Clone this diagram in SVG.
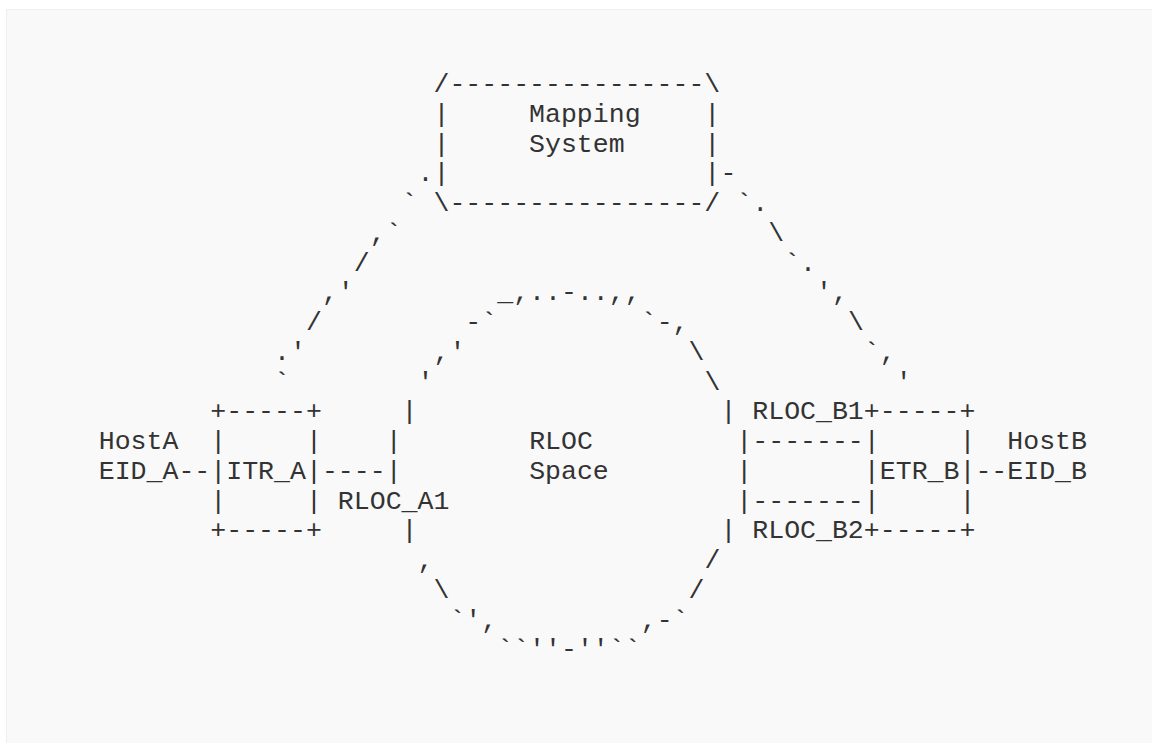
<svg xmlns="http://www.w3.org/2000/svg" width="1152" height="743" viewBox="0 0 1152 743" xml:space="preserve">
<style>
.t{font-family:"Liberation Mono","DejaVu Sans Mono",monospace;font-size:26.56px;fill:#333;white-space:pre}
</style>
<rect x="0" y="0" width="1152" height="743" fill="#ffffff"/>
<rect x="6.5" y="9.5" width="1200" height="800" fill="#f9f9f9" stroke="#eeeeee" stroke-width="1"/>
<g id="mapping-system">
<text class="t" x="433.49" y="92">/----------------\</text>
<text class="t" x="433.49" y="121.75">|     Mapping    |</text>
<text class="t" x="433.49" y="151.5">|     System     |</text>
<text class="t" x="433.49" y="181.25">|                |</text>
<text class="t" x="433.49" y="211">\----------------/</text>
</g>
<g id="host-a">
<text class="t" x="98.75" y="449">HostA</text>
<text class="t" x="98.75" y="478.75">EID_A</text>
</g>
<g id="itr-a">
<text class="t" x="210.33" y="419.25">+-----+</text>
<text class="t" x="210.33" y="449">|     |</text>
<text class="t" x="210.33" y="478.75">|ITR_A|</text>
<text class="t" x="210.33" y="508.5">|     |</text>
<text class="t" x="210.33" y="538.25">+-----+</text>
</g>
<g id="rloc-space">
<text class="t" x="497.25" y="300.25">_,..-..,,</text>
<text class="t" x="465.37" y="330">-`</text>
<text class="t" x="640.71" y="330">`-,</text>
<text class="t" x="433.49" y="359.75">,'</text>
<text class="t" x="688.53" y="359.75">\</text>
<text class="t" x="417.55" y="389.5">'</text>
<text class="t" x="704.47" y="389.5">\</text>
<text class="t" x="401.61" y="419.25">|</text>
<text class="t" x="720.41" y="419.25">|</text>
<text class="t" x="385.67" y="449">|</text>
<text class="t" x="736.35" y="449">|</text>
<text class="t" x="385.67" y="478.75">|</text>
<text class="t" x="736.35" y="478.75">|</text>
<text class="t" x="736.35" y="508.5">|</text>
<text class="t" x="401.61" y="538.25">|</text>
<text class="t" x="720.41" y="538.25">|</text>
<text class="t" x="417.55" y="568">,</text>
<text class="t" x="704.47" y="568">/</text>
<text class="t" x="433.49" y="597.75">\</text>
<text class="t" x="688.53" y="597.75">/</text>
<text class="t" x="449.43" y="627.5">`',</text>
<text class="t" x="640.71" y="627.5">,-`</text>
<text class="t" x="497.25" y="657.25">``''-''``</text>
<text class="t" x="529.13" y="449">RLOC</text>
<text class="t" x="529.13" y="478.75">Space</text>
</g>
<g id="etr-b">
<text class="t" x="863.87" y="419.25">+-----+</text>
<text class="t" x="863.87" y="449">|     |</text>
<text class="t" x="863.87" y="478.75">|ETR_B|</text>
<text class="t" x="863.87" y="508.5">|     |</text>
<text class="t" x="863.87" y="538.25">+-----+</text>
</g>
<g id="host-b">
<text class="t" x="1007.33" y="449">HostB</text>
<text class="t" x="1007.33" y="478.75">EID_B</text>
</g>
<g id="rloc-labels">
<text class="t" x="337.85" y="508.5">RLOC_A1</text>
<text class="t" x="752.29" y="419.25">RLOC_B1</text>
<text class="t" x="752.29" y="538.25">RLOC_B2</text>
</g>
<g id="connectors">
<text class="t" x="417.55" y="181.25">.</text>
<text class="t" x="401.61" y="211">`</text>
<text class="t" x="369.73" y="240.75">,`</text>
<text class="t" x="353.79" y="270.5">/</text>
<text class="t" x="321.91" y="300.25">,'</text>
<text class="t" x="305.97" y="330">/</text>
<text class="t" x="274.09" y="359.75">.'</text>
<text class="t" x="274.09" y="389.5">`</text>
<text class="t" x="720.41" y="181.25">-</text>
<text class="t" x="736.35" y="211">`.</text>
<text class="t" x="768.23" y="240.75">\</text>
<text class="t" x="784.17" y="270.5">`.</text>
<text class="t" x="816.05" y="300.25">',</text>
<text class="t" x="847.93" y="330">\</text>
<text class="t" x="863.87" y="359.75">`,</text>
<text class="t" x="895.75" y="389.5">'</text>
<text class="t" x="178.45" y="478.75">--</text>
<text class="t" x="321.91" y="478.75">----</text>
<text class="t" x="752.29" y="449">-------</text>
<text class="t" x="752.29" y="508.5">-------</text>
<text class="t" x="975.45" y="478.75">--</text>
</g>
</svg>
